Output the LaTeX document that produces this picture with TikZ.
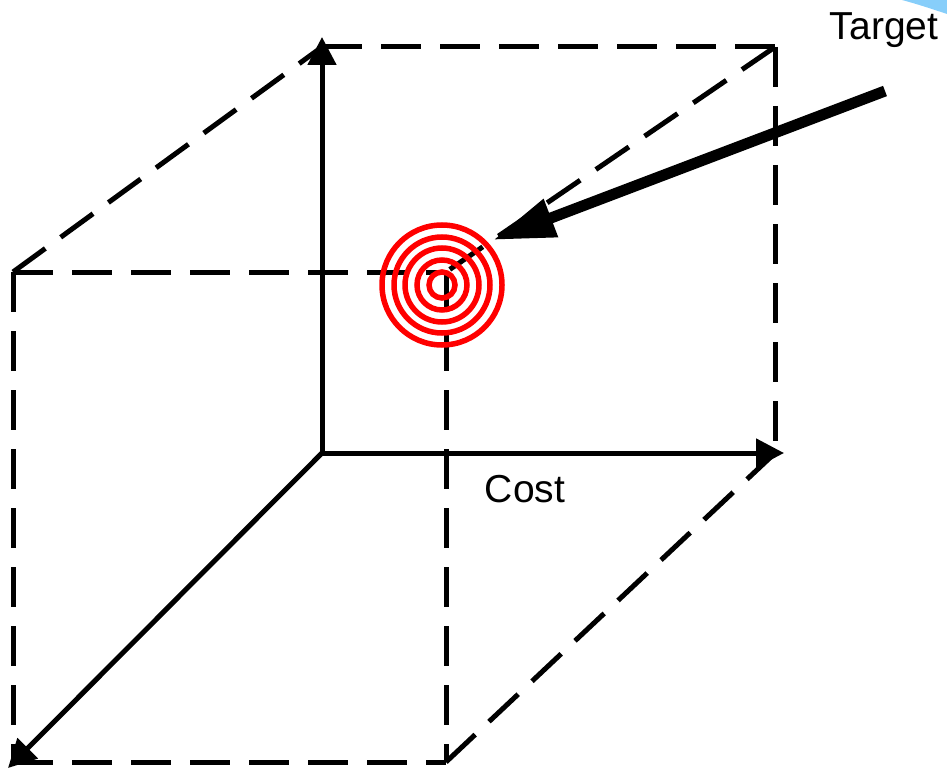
\documentclass[tikz,border=0pt]{standalone}
\usepackage{fontspec}
\setmainfont{Liberation Sans}
\usetikzlibrary{arrows.meta}
\definecolor{skyb}{RGB}{135,206,250}
\begin{document}
\begin{tikzpicture}[x=1pt,y=-1pt,
  edge/.style={line width=5pt,dash pattern=on 40pt off 19pt},
  axis/.style={line width=5pt,-{Triangle[length=28pt,width=28pt]}},
  ring/.style={draw=red,line width=5.5pt},
  lbl/.style={font=\fontsize{39}{41}\selectfont,anchor=base,inner sep=0pt}]
\useasboundingbox (0,0) rectangle (947,770);
\fill[skyb] (902,0) .. controls (917,4) and (932,9) .. (947,14) -- (947,0) -- cycle;
% corners
\coordinate (O) at (322,453);
\coordinate (BTL) at (322,47);
\coordinate (BTR) at (775,47);
\coordinate (BBR) at (775,453);
\coordinate (FTL) at (13,272);
\coordinate (FTR) at (446,272);
\coordinate (FBL) at (13,762);
\coordinate (FBR) at (446,762);
\coordinate (Yt) at (322,37);
\coordinate (Xt) at (784,453);
\coordinate (Zt) at (8,768);
\coordinate (Tc) at (442,285);
\coordinate (As) at (885,91);
\coordinate (Ae) at (493,240);
% dashed edges
\draw[edge] (BTL) -- (BTR);
\draw[edge] (BTR) -- (BBR);
\draw[edge] (FTL) -- (BTL);
\draw[edge] (FTL) -- (FTR);
\draw[edge] (BTR) -- (FTR);
\draw[edge] (FTL) -- (FBL);
\draw[edge] (FBL) -- (FBR);
\draw[edge] (FTR) -- (FBR);
\draw[edge] (FBR) -- (BBR);
% axes
\draw[axis] (O) -- (Yt);
\draw[axis] (O) -- (Xt);
\draw[axis] (O) -- (Zt);
% target rings
\foreach \r in {13,25,37,48,60} \draw[ring] (Tc) circle[radius=\r];
% big arrow
\draw[line width=11pt,-{Triangle[length=62pt,width=38pt]}] (As) -- (Ae);
% labels
\node[lbl] (tgt) at (884,40) {Target};
\node[lbl] (cost) at (525,502) {Cost};
\end{tikzpicture}
\end{document}
